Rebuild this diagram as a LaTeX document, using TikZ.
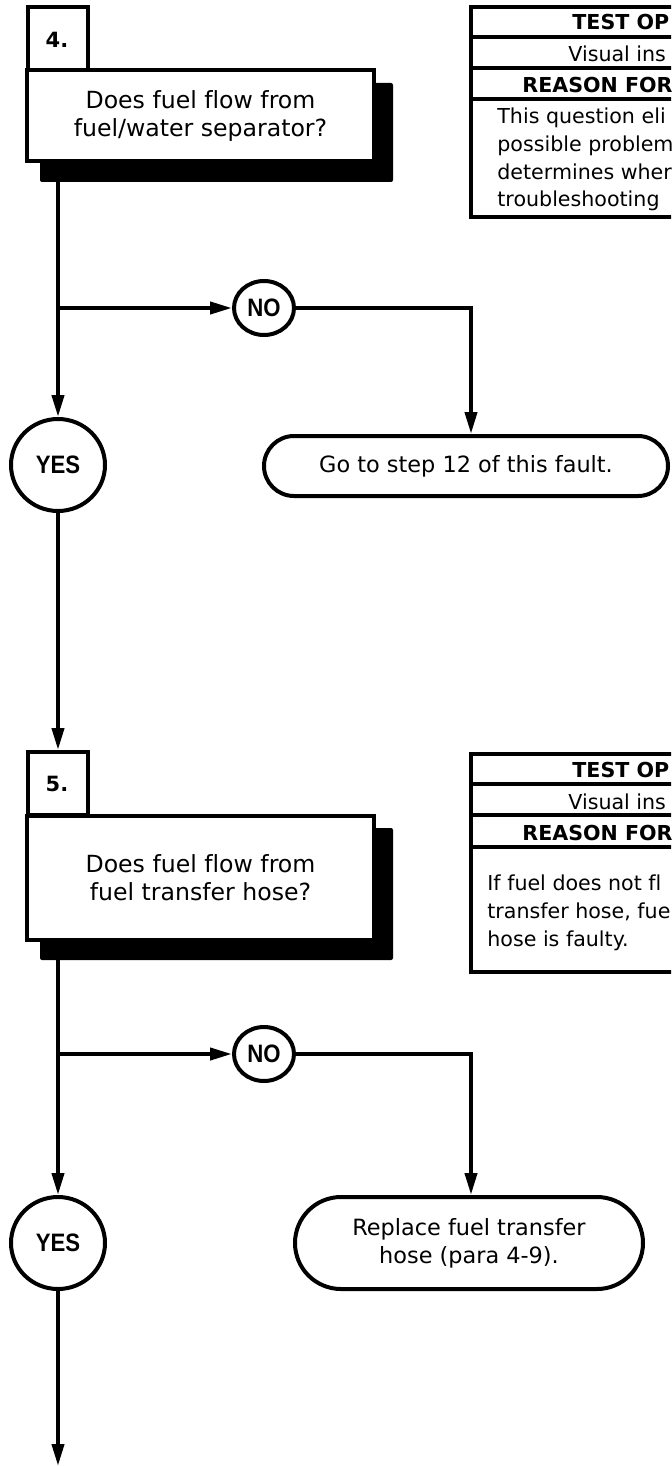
\documentclass[tikz,border=0pt]{standalone}
\usepackage{fontspec}
\setmainfont{DejaVu Sans}[Ligatures=NoCommon]
\newfontfamily\ynfont{Liberation Sans}[FakeStretch=0.88]
\usetikzlibrary{shapes.misc,shapes.geometric,arrows.meta,calc}
\tikzset{
  ln/.style={line width=2pt},
  arr/.style={line width=2pt,-{Triangle[length=11pt,width=6pt]}},
  flowfont/.style={font=\fontsize{11.2}{14}\selectfont},
  yn/.style={ellipse, draw, line width=2pt, fill=white, inner sep=0pt,
    font=\ynfont\bfseries\fontsize{12.6}{14}\selectfont},
  term/.style={rounded rectangle, draw, line width=2pt, fill=white, inner sep=0pt,
    align=center, flowfont},
  tabbox/.style={rectangle, draw, line width=2pt, fill=white, inner sep=0pt},
  numtxt/.style={inner sep=0pt, font=\bfseries\fontsize{10.5}{12}\selectfont},
  mainbox/.style={rectangle, draw, line width=2pt, fill=white, inner sep=0pt,
    align=center, font=\fontsize{11.8}{14}\selectfont},
  shadow/.style={fill=black, rounded corners=1pt},
  hdrb/.style={anchor=base west, inner sep=0pt, font=\bfseries\fontsize{10.3}{14}\selectfont},
  hdr/.style={anchor=base west, inner sep=0pt, font=\fontsize{10.3}{14}\selectfont},
  bodytxt/.style={anchor=base west, inner sep=0pt, font=\fontsize{10.3}{14}\selectfont},
}
\begin{document}
\begin{tikzpicture}[x=0.5pt,y=-0.5pt]
\useasboundingbox (0,0) rectangle (671,1466);
\clip (0,0) rectangle (671,1466);

% ---------- step 4 ----------
\node[tabbox, minimum width=30pt, minimum height=31.5pt] (s4tab) at (58,38.5) {};
\node[numtxt] (s4num) at (57,40) {4.};
\fill[shadow] (40,83) rectangle (393,182);
\node[mainbox, minimum width=173.5pt, minimum height=45.5pt] (s4main) at (200.5,115.5)
  {Does fuel flow from\\fuel/water separator?};

\node[yn, minimum width=30pt, minimum height=27pt] (no1) at (264,308) {NO};
\node[yn, minimum width=47pt, minimum height=46pt] (yes1) at (58,465) {YES};
\node[term, minimum width=202pt, minimum height=30pt] (go1) at (466,466)
  {Go to step 12 of this fault.};

\coordinate (b1) at (58,308);
\draw[arr] (s4main.south -| s4tab.south) -- (yes1.north);
\draw[arr] (b1) -- (no1.west);
\draw[arr] (no1.east) -| ([xshift=2.5pt]go1.north);

% test box 1
\draw[ln] (471,7) rectangle (720,217);
\draw[ln] (471,37) -- (720,37);
\draw[ln] (471,68) -- (720,68);
\draw[ln] (471,99) -- (720,99);
\node[hdrb] (t1a) at (572,30) {TEST OP};
\node[hdr] (t1b) at (568,62) {Visual ins};
\node[hdrb] (t1c) at (522,93) {REASON FOR};
\node[bodytxt] (t1d) at (497,124) {This question eli};
\node[bodytxt] (t1e) at (497,152) {possible problem};
\node[bodytxt] (t1f) at (497,180) {determines wher};
\node[bodytxt] (t1g) at (497,207) {troubleshooting};

% ---------- step 5 ----------
\node[tabbox, minimum width=30pt, minimum height=31.5pt] (s5tab) at (58,783.5) {};
\node[numtxt] (s5num) at (57,784) {5.};
\fill[shadow] (40,828) rectangle (393,960);
\node[mainbox, minimum width=173.5pt, minimum height=62pt] (s5main) at (200.5,878)
  {Does fuel flow from\\fuel transfer hose?};

\draw[arr] (yes1.south) -- (s5tab.north);

\node[yn, minimum width=30pt, minimum height=27pt] (no2) at (264,1054) {NO};
\node[yn, minimum width=47pt, minimum height=46pt] (yes2) at (58,1243) {YES};
\node[term, minimum width=174pt, minimum height=46pt] (rep) at (469,1243)
  {Replace fuel transfer\\hose (para 4-9).};

\coordinate (b2) at (58,1054);
\coordinate (endc) at (58,1466);
\draw[arr] (s5main.south -| s5tab.south) -- (yes2.north);
\draw[arr] (b2) -- (no2.west);
\draw[arr] (no2.east) -| ([xshift=1pt]rep.north);
\draw[arr] (yes2.south) -- (endc);

% test box 2
\draw[ln] (471,754) rectangle (720,972);
\draw[ln] (471,784) -- (720,784);
\draw[ln] (471,815) -- (720,815);
\draw[ln] (471,847) -- (720,847);
\node[hdrb] (t2a) at (572,777) {TEST OP};
\node[hdr] (t2b) at (568,809) {Visual ins};
\node[hdrb] (t2c) at (522,840) {REASON FOR};
\node[bodytxt] (t2d) at (487,890) {If fuel does not fl};
\node[bodytxt] (t2e) at (487,918) {transfer hose, fue};
\node[bodytxt] (t2f) at (487,946) {hose is faulty.};
\end{tikzpicture}
\end{document}
